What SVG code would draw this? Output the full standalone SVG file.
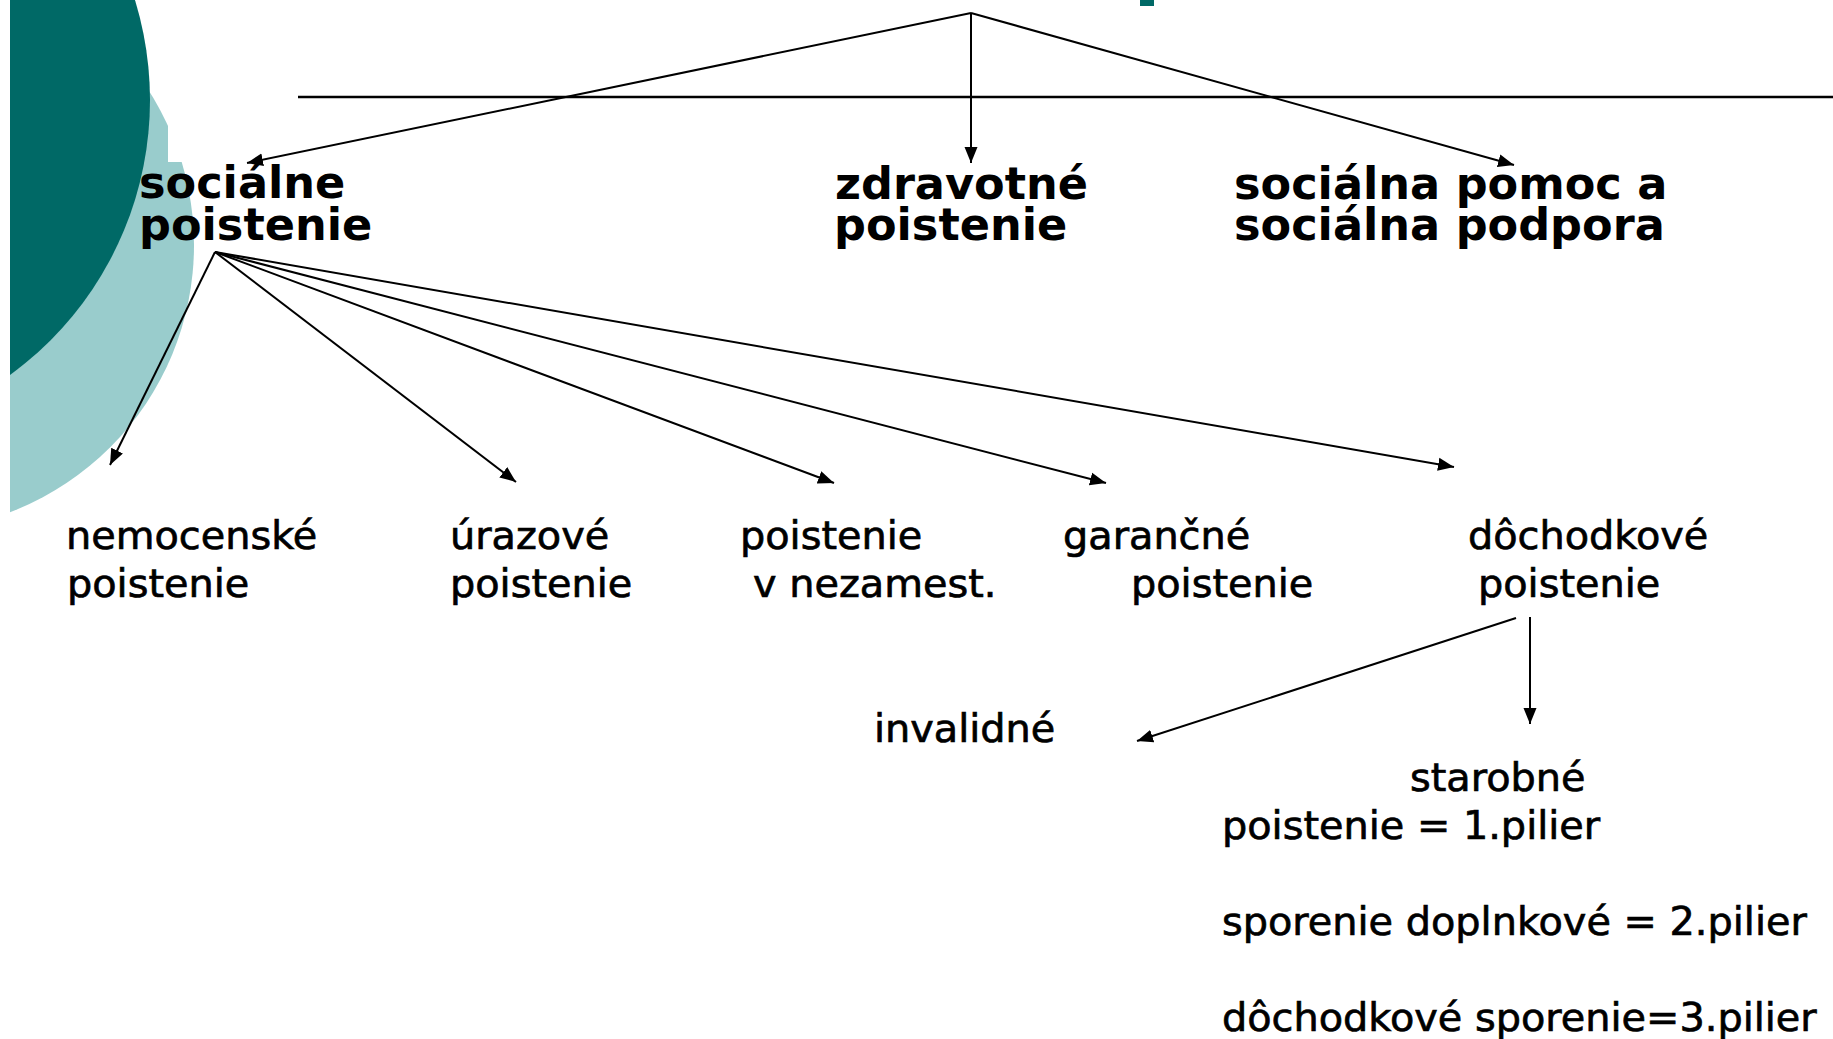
<svg xmlns="http://www.w3.org/2000/svg" width="1833" height="1039" viewBox="0 0 1833 1039">
<style>
.t1{font-family:"DejaVu Sans","Liberation Sans",sans-serif;font-weight:bold;font-size:44.6px;fill:#000}
.t2{font-family:"DejaVu Sans","Liberation Sans",sans-serif;font-size:39.8px;fill:#000;stroke:#000;stroke-width:0.7}
.c{stroke:#000;stroke-width:2;fill:none}
</style>
<defs>
<marker id="ah" markerUnits="userSpaceOnUse" markerWidth="17" markerHeight="14" viewBox="0 0 17 14" refX="16" refY="7" orient="auto">
<path d="M0,0.5 L16,7 L0,13.5 z" fill="#000"/>
</marker>
<clipPath id="cl">
<path d="M10,0 H168 V162 H400 V1039 H10 z"/>
</clipPath>
<clipPath id="cd">
<rect x="10" y="0" width="400" height="1039"/>
</clipPath>
</defs>
<rect width="1833" height="1039" fill="#fff"/>
<g id="decor">
<circle cx="-92" cy="245" r="286" fill="#99CCCC" clip-path="url(#cl)"/>
<circle cx="-190" cy="100" r="340" fill="#006966" clip-path="url(#cd)"/>
<rect x="1140" y="0" width="14" height="6" fill="#006966"/>
<line x1="298" y1="97" x2="1833" y2="97" stroke="#000" stroke-width="2.5"/>
</g>
<g id="connectors">
<line class="c" x1="971" y1="13" x2="247" y2="163" marker-end="url(#ah)"/>
<line class="c" x1="971" y1="13" x2="971" y2="163" marker-end="url(#ah)"/>
<line class="c" x1="971" y1="13" x2="1514" y2="165" marker-end="url(#ah)"/>
<line class="c" x1="215" y1="252" x2="110" y2="465" marker-end="url(#ah)"/>
<line class="c" x1="215" y1="252" x2="516" y2="482" marker-end="url(#ah)"/>
<line class="c" x1="215" y1="252" x2="834" y2="483" marker-end="url(#ah)"/>
<line class="c" x1="215" y1="252" x2="1106" y2="483" marker-end="url(#ah)"/>
<line class="c" x1="215" y1="252" x2="1454" y2="467" marker-end="url(#ah)"/>
<line class="c" x1="1516" y1="618" x2="1137" y2="741" marker-end="url(#ah)"/>
<line class="c" x1="1530" y1="617" x2="1530" y2="724" marker-end="url(#ah)"/>
</g>
<g id="n-socialne">
<text class="t1" x="139" y="198">sociálne<tspan x="139" y="240">poistenie</tspan></text>
</g>
<g id="n-zdravotne">
<text class="t1" x="835" y="199">zdravotné<tspan x="834" y="240">poistenie</tspan></text>
</g>
<g id="n-pomoc">
<text class="t1" x="1234" y="199">sociálna pomoc a<tspan x="1234" y="240">sociálna podpora</tspan></text>
</g>
<g id="n-nemocenske">
<text class="t2" x="66" y="549">nemocenské<tspan x="67" y="597">poistenie</tspan></text>
</g>
<g id="n-urazove">
<text class="t2" x="450" y="549">úrazové<tspan x="450" y="597">poistenie</tspan></text>
</g>
<g id="n-nezamest">
<text class="t2" x="740" y="549">poistenie<tspan x="753" y="597">v nezamest.</tspan></text>
</g>
<g id="n-garancne">
<text class="t2" x="1063" y="549">garančné<tspan x="1131" y="597">poistenie</tspan></text>
</g>
<g id="n-dochodkove">
<text class="t2" x="1468" y="549">dôchodkové<tspan x="1478" y="597">poistenie</tspan></text>
</g>
<g id="n-invalidne">
<text class="t2" x="874" y="742">invalidné</text>
</g>
<g id="n-starobne">
<text class="t2" x="1410" y="791">starobné<tspan x="1222" y="839">poistenie = 1.pilier</tspan><tspan x="1222" y="935">sporenie doplnkové = 2.pilier</tspan><tspan x="1222" y="1031">dôchodkové sporenie=3.pilier</tspan></text>
</g>
</svg>
